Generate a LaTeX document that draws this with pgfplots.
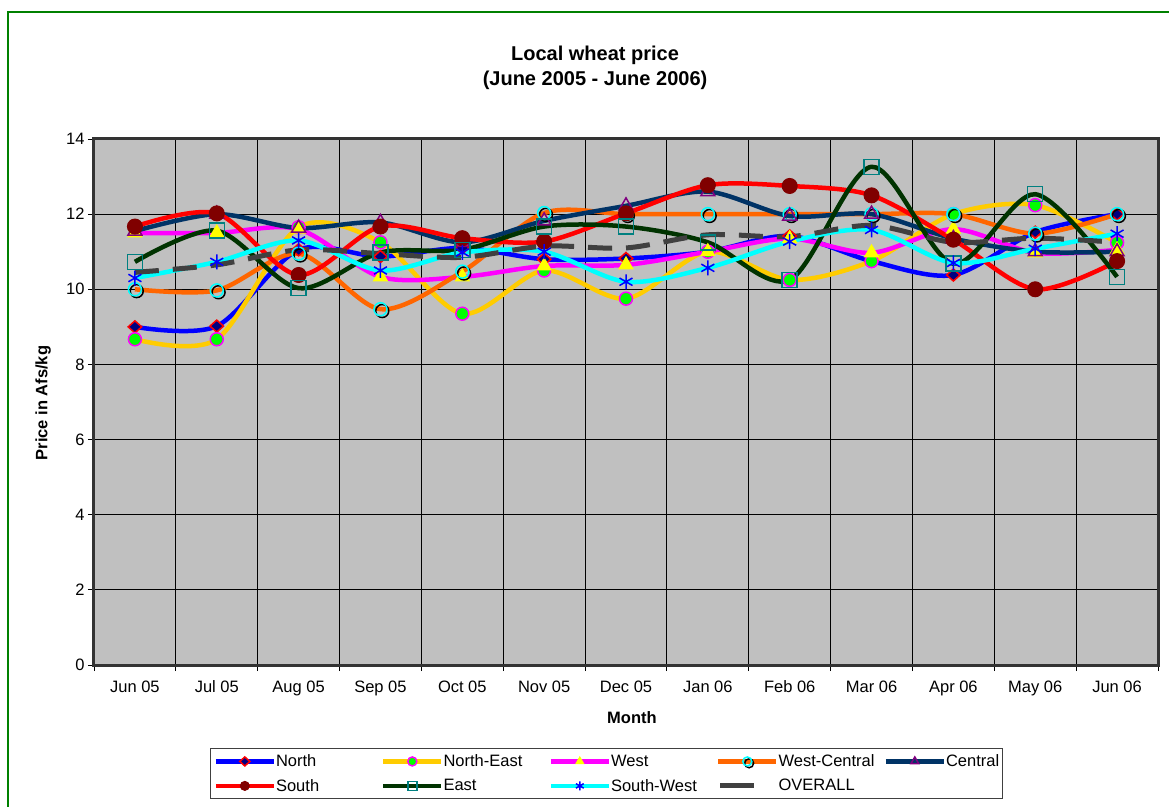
\documentclass[border=0pt]{standalone}
\usepackage{fontspec}
\setmainfont{Liberation Sans}
\usepackage{pgfplots}
\usepackage{pgfplotstable}
\pgfplotsset{compat=1.18}

\definecolor{nblue}{RGB}{0,0,255}
\definecolor{nnavy}{RGB}{0,0,128}
\definecolor{negold}{RGB}{255,204,0}
\definecolor{nelime}{RGB}{0,255,0}
\definecolor{wmag}{RGB}{255,0,255}
\definecolor{wyel}{RGB}{255,255,0}
\definecolor{wcorange}{RGB}{255,102,0}
\definecolor{wccyan}{RGB}{0,255,255}
\definecolor{cnavy}{RGB}{0,51,102}
\definecolor{cpurple}{RGB}{128,0,128}
\definecolor{sred}{RGB}{255,0,0}
\definecolor{smaroon}{RGB}{128,0,0}
\definecolor{egreen}{RGB}{0,51,0}
\definecolor{eteal}{RGB}{0,128,128}
\definecolor{swcyan}{RGB}{0,255,255}
\definecolor{swblue}{RGB}{0,0,255}
\definecolor{ovgray}{RGB}{64,64,64}
\definecolor{plotbg}{RGB}{192,192,192}
\definecolor{framegreen}{RGB}{0,128,0}

% open cyan circle with a black offset ring, as in the original
\pgfdeclareplotmark{wcirc}{%
  \pgfsetstrokecolor{black}%
  \pgfpathcircle{\pgfqpoint{1.8pt}{-1.8pt}}{\pgfplotmarksize}\pgfusepathqstroke
  \pgfsetstrokecolor{wccyan}%
  \pgfpathcircle{\pgfpointorigin}{\pgfplotmarksize}\pgfusepathqstroke}

\pgfplotsset{ovlegend/.style={legend image code/.code={\draw[##1,solid] (2pt,0pt) -- (36pt,0pt);}}}

\pgfplotstableread{
x North NorthEast West WestCentral Central South East SouthWest Overall
0  9.00  8.67 11.50 10.00 11.55 11.67 10.73 10.30 10.45
1  9.02  8.67 11.50  9.97 12.00 12.02 11.56 10.73 10.65
2 11.05 11.65 11.60 10.95 11.63 10.38 10.03 11.30 11.05
3 10.87 11.25 10.33  9.47 11.78 11.67 10.98 10.50 10.95
4 11.10  9.35 10.33 10.47 11.25 11.36 11.05 10.98 10.85
5 10.80 10.50 10.62 12.03 11.82 11.27 11.67 11.00 11.15
6 10.82  9.75 10.65 12.00 12.22 12.02 11.67 10.20 11.10
7 11.00 11.00 11.00 12.00 12.60 12.77 11.25 10.57 11.45
8 11.42 10.25 11.35 12.00 11.95 12.75 10.25 11.27 11.40
9 10.75 10.75 10.97 12.00 12.00 12.50 13.26 11.58 11.70
10 10.38 12.00 11.60 12.00 11.35 11.32 10.68 10.70 11.25
11 11.52 12.24 10.97 11.48 11.00 10.00 12.53 11.08 11.36
12 12.00 11.24 11.05 12.00 11.00 10.75 10.33 11.48 11.25
}\wheat

\newcommand{\lt}[1]{\makebox[105pt][l]{#1}}

\begin{document}
\begin{tikzpicture}
\draw[framegreen, line width=2pt] (-86pt,-200pt) rectangle (1200pt,653pt);
\begin{axis}[
  at={(0pt,0pt)}, anchor=south west,
  scale only axis, width=1064pt, height=526pt,
  xmin=-0.5, xmax=12.5, ymin=0, ymax=14,
  xtick={0,...,12},
  xticklabels={Jun 05,Jul 05,Aug 05,Sep 05,Oct 05,Nov 05,Dec 05,Jan 06,Feb 06,Mar 06,Apr 06,May 06,Jun 06},
  minor xtick={-0.5,0.5,...,12.5},
  ytick={0,2,...,14},
  every major x tick/.append style={draw=none},
  xminorgrids, ymajorgrids,
  minor grid style={black, line width=0.9pt},
  major grid style={black, line width=0.9pt},
  tick align=outside, tick pos=left,
  major tick length=6pt, minor tick length=6pt,
  tick style={black, line width=0.9pt},
  axis background/.style={fill=plotbg},
  axis line style={draw=black!80, line width=3pt},
  /pgf/number format/assume math mode=true,
  tick label style={font=\fontsize{16.5}{19}\selectfont},
  xticklabel style={yshift=-6pt},
  xlabel={\bfseries Month},
  ylabel={\bfseries Price in Afs/kg},
  label style={font=\fontsize{16.5}{19}\selectfont},
  xlabel style={at={(axis description cs:0.5056,-0.1008)}, anchor=center},
  ylabel style={at={(axis description cs:-0.0479,0.498)}, anchor=center},
  title={\bfseries Local wheat price\\\bfseries (June 2005 - June 2006)},
  title style={at={(axis description cs:0.4709,1.1245)}, anchor=center,
    align=center, font=\fontsize{20}{25}\selectfont},
  legend columns=5,
  legend style={at={(axis description cs:0.109,-0.158)}, anchor=north west,
    draw=black!75, line width=1.2pt, fill=white,
    font=\fontsize{16.5}{18}\selectfont,
    nodes={inner sep=0pt, anchor=west},
    inner xsep=3pt, inner ysep=6pt, row sep=11pt,
    /tikz/every even column/.append style={column sep=0pt}},
  legend image code/.code={\draw[mark repeat=2,mark phase=2,#1,mark size=4.5pt]
    plot coordinates {(0pt,0pt) (29pt,0pt) (58pt,0pt)};},
]
\addplot[color=nblue, line width=4.5pt, smooth, mark=diamond*, mark size=6pt,
  mark options={solid, fill=nnavy, draw=sred, line width=1.5pt, xscale=1.5}]
  table[x=x, y=North]{\wheat};
\addlegendentry{\lt{North}}
\addplot[color=negold, line width=4.5pt, smooth, mark=*, mark size=6.5pt,
  mark options={solid, fill=nelime, draw=wmag, line width=1.5pt}]
  table[x=x, y=NorthEast]{\wheat};
\addlegendentry{\lt{North-East}}
\addplot[color=wmag, line width=4.5pt, smooth, mark=triangle*, mark size=8pt,
  mark options={solid, fill=wyel, draw=wyel, line width=1pt}]
  table[x=x, y=West]{\wheat};
\addlegendentry{\lt{West}}
\addplot[color=wcorange, line width=4.5pt, smooth, mark=wcirc, mark size=6.5pt,
  mark options={solid, line width=1.5pt}]
  table[x=x, y=WestCentral]{\wheat};
\addlegendentry{\lt{West-Central}}
\addplot[color=cnavy, line width=4.5pt, smooth, mark=triangle, mark size=8pt,
  mark options={solid, draw=cpurple, line width=1.5pt}]
  table[x=x, y=Central]{\wheat};
\addlegendentry{Central}
\addplot[color=sred, line width=4.5pt, smooth, mark=*, mark size=7.5pt,
  mark options={solid, fill=smaroon, draw=smaroon, line width=1pt}]
  table[x=x, y=South]{\wheat};
\addlegendentry{\lt{South}}
\addplot[color=egreen, line width=4.5pt, smooth, mark=square, mark size=7.5pt,
  mark options={solid, draw=eteal, line width=1.5pt}]
  table[x=x, y=East]{\wheat};
\addlegendentry{\lt{East}}
\addplot[color=swcyan, line width=4.5pt, smooth, mark=asterisk, mark size=7.5pt,
  mark options={solid, draw=swblue, line width=1.5pt}]
  table[x=x, y=SouthWest]{\wheat};
\addlegendentry{\lt{South-West}}
\addplot[color=ovgray, line width=5pt, smooth, no marks, dash pattern=on 24pt off 14pt, ovlegend]
  table[x=x, y=Overall]{\wheat};
\addlegendentry{\lt{OVERALL}}
\end{axis}
\pgfresetboundingbox
\path[use as bounding box] (-94pt,-141pt) rectangle (1075pt,665pt);
\end{tikzpicture}
\end{document}
